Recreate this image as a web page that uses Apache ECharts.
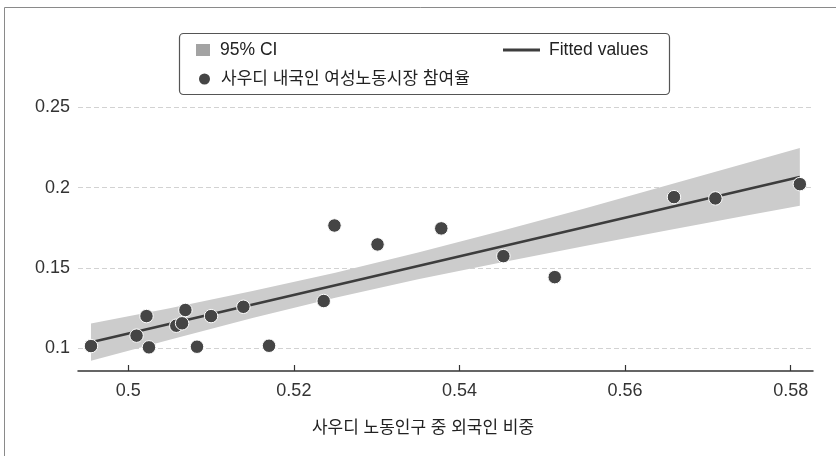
<!DOCTYPE html>
<html>
<head>
<meta charset="utf-8">
<script src="https://cdn.jsdelivr.net/npm/echarts@6/dist/echarts.min.js"></script>
<style>
  html, body { margin: 0; padding: 0; background: #fff; }
  #chart { width: 836px; height: 456px; }
</style>
</head>
<body>
<div id="chart"></div>
<script>
// Foreign share of the Saudi labour force vs. Saudi female labour participation
const shareForeign = [0.4955, 0.5010, 0.5022, 0.5025, 0.5058, 0.5065, 0.5069, 0.5083, 0.5100, 0.5139,
                      0.5170, 0.5236, 0.5249, 0.5301, 0.5378, 0.5453, 0.5515, 0.5659, 0.5709, 0.5811];
const femaleParticipation = [0.1012, 0.1077, 0.1199, 0.1004, 0.1139, 0.1154, 0.1237, 0.1008, 0.1199, 0.1257,
                             0.1014, 0.1293, 0.1764, 0.1646, 0.1746, 0.1573, 0.1442, 0.1941, 0.1933, 0.2022];

// Linear fit and its 95% confidence band
const fitX = [0.4955, 0.5811];
const fitY = [0.1036, 0.2067];
const bandX     = [0.4955, 0.505, 0.515, 0.525, 0.535, 0.545, 0.555, 0.565, 0.575, 0.5811];
const bandUpper = [0.1152, 0.1248, 0.1355, 0.1469, 0.1595, 0.1729, 0.1869, 0.2013, 0.2158, 0.2247];
const bandLower = [0.0920, 0.1052, 0.1187, 0.1313, 0.1428, 0.1534, 0.1635, 0.1733, 0.1829, 0.1887];

const xTicks = [0.5, 0.52, 0.54, 0.56, 0.58];
const yTicks = [0.1, 0.15, 0.2, 0.25];

const labels = {
  ci: '95% CI',
  fit: 'Fitted values',
  points: '사우디 내국인 여성노동시장 참여율',
  xTitle: '사우디 노동인구 중 외국인 비중'
};

const FONT = "'Liberation Sans', 'Noto Sans CJK KR', sans-serif";
const DARK = '#454545';

const chart = echarts.init(document.getElementById('chart'), null, { renderer: 'canvas' });

const scatterData = shareForeign.map((x, i) => [x, femaleParticipation[i]]);
const fitData = fitX.map((x, i) => [x, fitY[i]]);
const bandData = bandX.map((x, i) => [x, bandLower[i], bandUpper[i]]);

function legendText(size) {
  return { fontFamily: FONT, fontSize: size, color: '#222', lineHeight: 20, padding: [0, 0, 0, 5] };
}

chart.setOption({
  animation: false,
  backgroundColor: '#fff',
  grid: { left: 78, right: 23, top: 107.5, bottom: 85 },
  xAxis: {
    type: 'value',
    min: 0.49393,
    max: 0.58269,
    axisLine: { show: true, lineStyle: { color: '#333', width: 1.5 } },
    axisTick: { show: true, inside: true, length: 6, customValues: xTicks, lineStyle: { color: '#333', width: 1.2 } },
    axisLabel: { customValues: xTicks, margin: 11, fontFamily: FONT, fontSize: 18, color: '#333',
                 formatter: v => String(+v.toFixed(2)) },
    splitLine: { show: false }
  },
  yAxis: {
    type: 'value',
    min: 0.08565,
    max: 0.25,
    axisLine: { show: false },
    axisTick: { show: false, customValues: yTicks },
    axisLabel: { customValues: yTicks, margin: 8, fontFamily: FONT, fontSize: 18, color: '#333',
                 formatter: v => String(+v.toFixed(2)) },
    splitLine: { show: true, lineStyle: { color: '#d2d2d2', type: [5, 3], width: 1 } }
  },
  legend: [
    {
      data: [{ name: labels.ci, itemStyle: { color: '#a3a3a3' } }],
      left: 196, top: 40, padding: 0, selectedMode: false,
      icon: 'rect', itemWidth: 14, itemHeight: 12,
      textStyle: legendText(17.5)
    },
    {
      data: [labels.fit],
      left: 503, top: 40, padding: 0, selectedMode: false,
      icon: 'rect', itemWidth: 37, itemHeight: 3,
      textStyle: Object.assign(legendText(17.5), { padding: [0, 0, 0, 4] })
    },
    {
      data: [labels.points],
      left: 197, top: 69, padding: 0, selectedMode: false,
      icon: 'circle', itemWidth: 13, itemHeight: 13,
      textStyle: legendText(17)
    }
  ],
  graphic: [
    // outer frame
    { type: 'rect', shape: { x: 4.5, y: 7.5, width: 900, height: 600 }, silent: true, z: -10,
      style: { fill: 'none', stroke: '#8a8a8a', lineWidth: 1 } },
    // legend frame
    { type: 'rect', shape: { x: 179.5, y: 33.5, width: 490, height: 61, r: 4 }, silent: true, z: -5,
      style: { fill: '#fff', stroke: '#555', lineWidth: 1.2 } },
    // x-axis title
    { type: 'text', x: 423, y: 428, silent: true,
      style: { text: labels.xTitle, fontFamily: FONT, fontSize: 17, fill: '#222',
               align: 'center', verticalAlign: 'middle' } }
  ],
  series: [
    {
      name: labels.ci,
      type: 'custom',
      data: bandData,
      encode: { x: 0, y: [1, 2] },
      itemStyle: { color: '#cccccc' },
      z: 1,
      renderItem: function (params, api) {
        if (params.dataIndex !== 0) return null;
        const pts = [];
        for (let i = 0; i < bandX.length; i++) pts.push(api.coord([bandX[i], bandUpper[i]]));
        for (let i = bandX.length - 1; i >= 0; i--) pts.push(api.coord([bandX[i], bandLower[i]]));
        return { type: 'polygon', shape: { points: pts }, style: { fill: '#cccccc' } };
      }
    },
    {
      name: labels.fit,
      type: 'line',
      data: fitData,
      symbol: 'none',
      z: 3,
      itemStyle: { color: '#3d3d3d' },
      lineStyle: { color: '#3d3d3d', width: 2.6 }
    },
    {
      name: labels.points,
      type: 'scatter',
      data: scatterData,
      symbol: 'circle',
      symbolSize: 13.5,
      z: 4,
      itemStyle: { color: DARK, borderColor: '#ffffff', borderWidth: 1, opacity: 1 }
    }
  ]
});
</script>
</body>
</html>
